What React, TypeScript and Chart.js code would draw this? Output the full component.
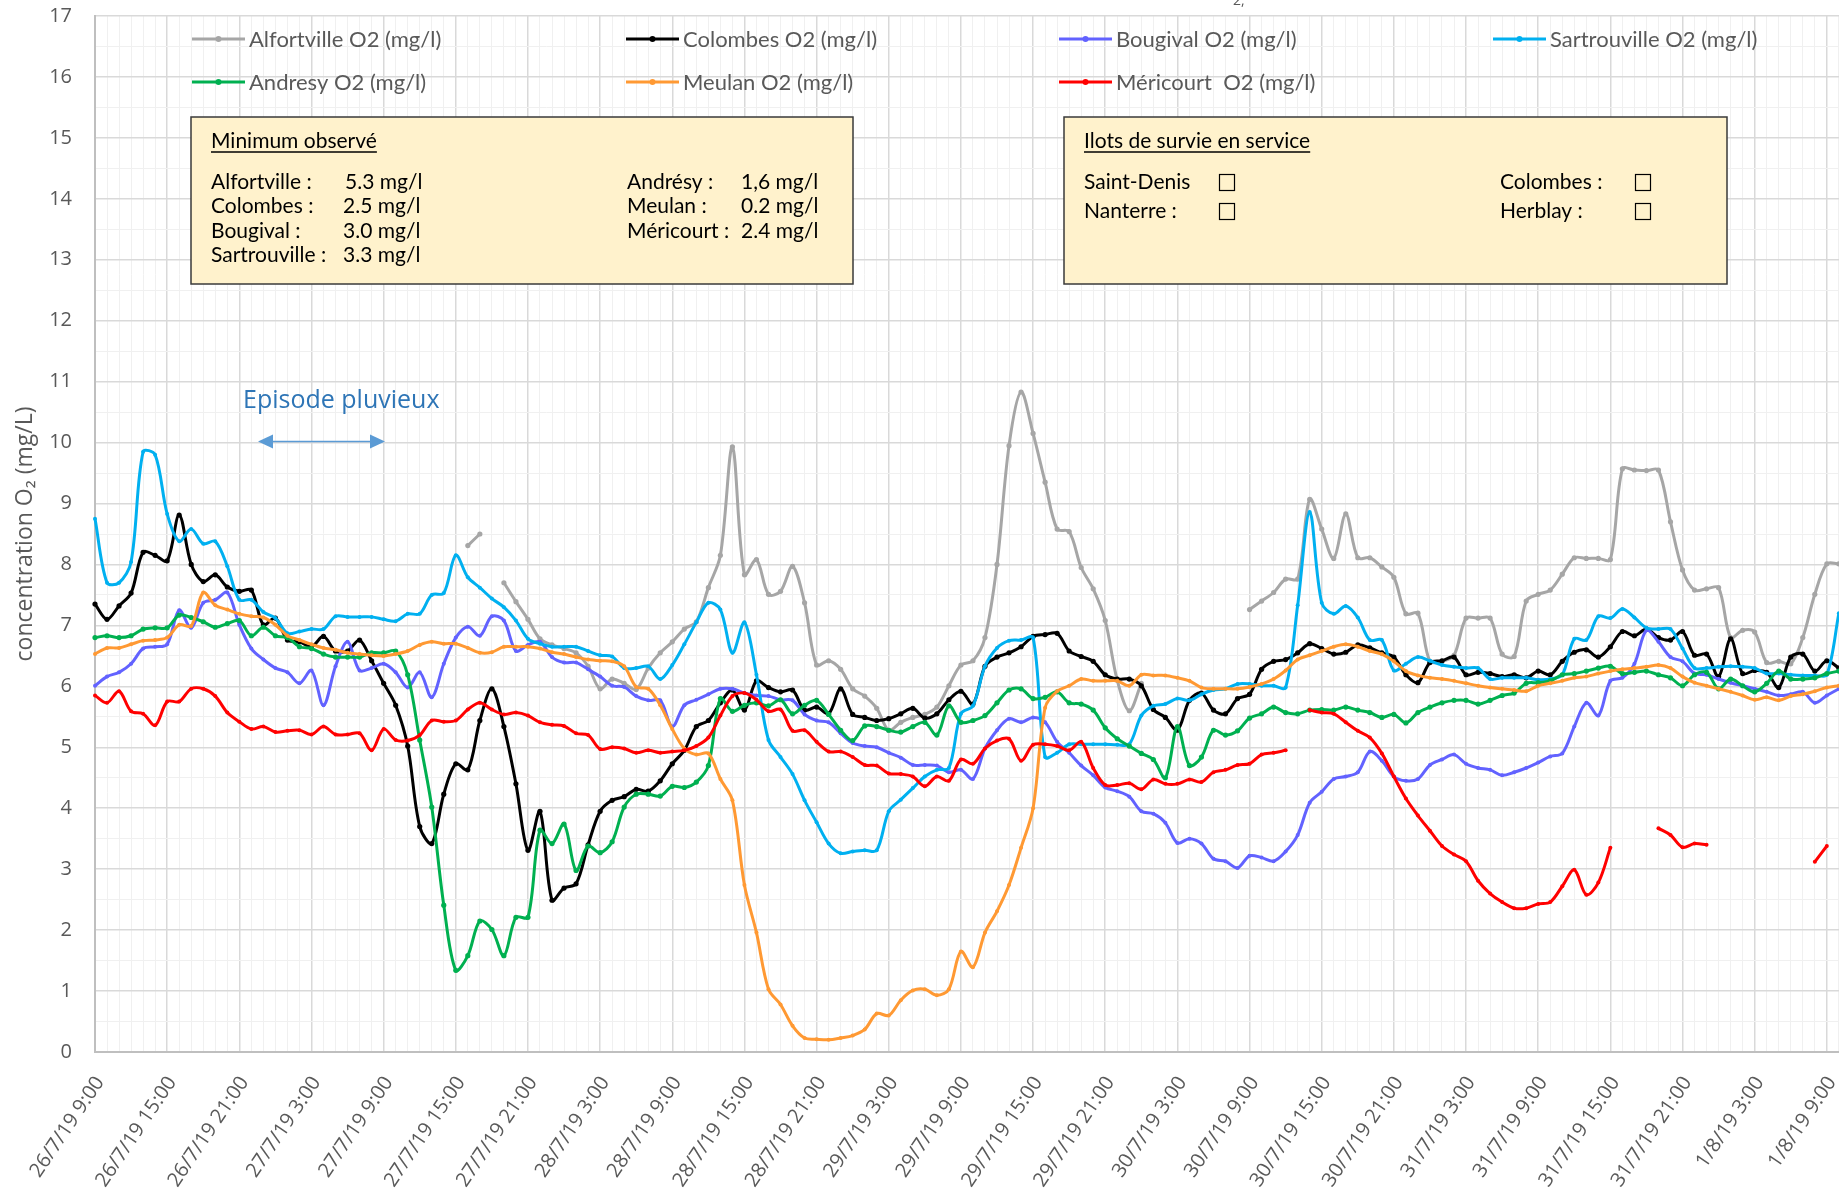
import React, { useEffect, useRef } from "react";
import { Chart, registerables } from "chart.js";

Chart.register(...registerables);

// ---- tick labels (every 6 hours) ----
const TICK_LABELS = [
  "26/7/19 9:00", "26/7/19 15:00", "26/7/19 21:00", "27/7/19 3:00", "27/7/19 9:00",
  "27/7/19 15:00", "27/7/19 21:00", "28/7/19 3:00", "28/7/19 9:00", "28/7/19 15:00",
  "28/7/19 21:00", "29/7/19 3:00", "29/7/19 9:00", "29/7/19 15:00", "29/7/19 21:00",
  "30/7/19 3:00", "30/7/19 9:00", "30/7/19 15:00", "30/7/19 21:00", "31/7/19 3:00",
  "31/7/19 9:00", "31/7/19 15:00", "31/7/19 21:00", "1/8/19 3:00", "1/8/19 9:00",
];

// ---- hourly categories 26/7/19 9:00 .. 1/8/19 15:00 ----
function hourLabel(i: number): string {
  let h = 9 + i;
  let d = 26 + Math.floor(h / 24);
  h = h % 24;
  let m = 7;
  if (d > 31) { d -= 31; m = 8; }
  return `${d}/${m}/19 ${h}:00`;
}
const CATEGORIES = Array.from({ length: 151 }, (_, i) => hourLabel(i));

const _ = null;

// ---- series values (mg/l), one per hour from 26/7/19 9:00 ----
const ALFORTVILLE = [
  _, _, _, _, _, _, _, _, _, _, _, _, _, _, _, _, _, _, _, _, _, _, _, _,
  _, _, _, _, _, _, _, 8.31, 8.5, _, 7.7, 7.39, 7.1, 6.78, 6.68, 6.62, 6.55, 6.33, 5.96, 6.12, 6.05, 5.95, 6.3, 6.55,
  6.73, 6.94, 7.06, 7.62, 8.15, 9.93, 7.83, 8.08, 7.51, 7.56, 7.97, 7.37, 6.35, 6.42, 6.28, 5.96, 5.84, 5.64, 5.28, 5.41, 5.49, 5.54, 5.66, 6.01,
  6.35, 6.42, 6.8, 8.0, 9.95, 10.83, 10.15, 9.35, 8.58, 8.54, 7.95, 7.6, 7.08, 6.1, 5.6, 6.05, _, _, _, _, _, _, _, _,
  7.26, 7.4, 7.54, 7.76, 7.76, 9.07, 8.58, 8.1, 8.83, 8.11, 8.11, 7.96, 7.79, 7.19, 7.2, 6.41, 6.41, 6.51, 7.12, 7.12, 7.12, 6.53, 6.49, 7.4,
  7.51, 7.58, 7.84, 8.11, 8.1, 8.1, 8.08, 9.57, 9.55, 9.54, 9.55, 8.7, 7.91, 7.58, 7.6, 7.62, 6.8, 6.92, 6.89, 6.39, 6.41, 6.37, 6.8, 7.51,
  8.01, 8.01,
];
const COLOMBES = [
  7.35, 7.1, 7.32, 7.53, 8.2, 8.15, 8.06, 8.81, 8.0, 7.72, 7.83, 7.63, 7.56, 7.58, 7.01, 7.12, 6.76, 6.73, 6.65, 6.82, 6.58, 6.58, 6.76, 6.42,
  6.05, 5.69, 5.02, 3.7, 3.42, 4.23, 4.73, 4.63, 5.44, 5.96, 5.34, 4.4, 3.31, 3.95, 2.49, 2.69, 2.76, 3.4, 3.95, 4.13, 4.19, 4.31, 4.28, 4.45,
  4.73, 4.95, 5.34, 5.44, 5.73, 5.94, 5.61, 6.09, 5.98, 5.91, 5.94, 5.61, 5.66, 5.55, 5.96, 5.54, 5.49, 5.44, 5.47, 5.55, 5.64, 5.48, 5.55, 5.78,
  5.92, 5.71, 6.33, 6.48, 6.55, 6.65, 6.82, 6.85, 6.87, 6.58, 6.49, 6.41, 6.19, 6.12, 6.12, 6.01, 5.62, 5.49, 5.28, 5.77, 5.89, 5.61, 5.55, 5.8,
  5.87, 6.28, 6.41, 6.44, 6.55, 6.7, 6.62, 6.53, 6.56, 6.68, 6.63, 6.55, 6.48, 6.19, 6.06, 6.39, 6.42, 6.48, 6.19, 6.23, 6.21, 6.16, 6.19, 6.14,
  6.25, 6.19, 6.41, 6.56, 6.6, 6.48, 6.65, 6.9, 6.83, 6.94, 6.8, 6.76, 6.9, 6.51, 6.53, 6.16, 6.78, 6.21, 6.26, 6.23, 5.98, 6.48, 6.53, 6.25,
  6.42, 6.3,
];
const BOUGIVAL = [
  6.01, 6.16, 6.23, 6.37, 6.62, 6.65, 6.69, 7.25, 6.96, 7.37, 7.42, 7.54, 7.01, 6.62, 6.44, 6.3, 6.23, 6.05, 6.26, 5.69, 6.33, 6.73, 6.26, 6.3,
  6.37, 6.23, 5.98, 6.23, 5.82, 6.37, 6.8, 6.98, 6.83, 7.15, 7.08, 6.58, 6.68, 6.73, 6.48, 6.39, 6.39, 6.28, 6.16, 6.01, 5.99, 5.84, 5.77, 5.77,
  5.34, 5.69, 5.78, 5.87, 5.96, 5.96, 5.89, 5.85, 5.84, 5.78, 5.77, 5.54, 5.44, 5.41, 5.23, 5.07, 5.02, 5.0, 4.91, 4.83, 4.71, 4.71, 4.7, 4.59,
  4.63, 4.48, 4.98, 5.28, 5.47, 5.41, 5.49, 5.41, 5.09, 4.91, 4.7, 4.54, 4.34, 4.28, 4.19, 3.95, 3.91, 3.76, 3.43, 3.5, 3.42, 3.17, 3.13, 3.02,
  3.22, 3.19, 3.13, 3.29, 3.56, 4.09, 4.27, 4.48, 4.52, 4.59, 4.93, 4.78, 4.52, 4.45, 4.48, 4.71, 4.8, 4.88, 4.73, 4.66, 4.63, 4.54, 4.59, 4.66,
  4.75, 4.85, 4.9, 5.34, 5.73, 5.52, 6.09, 6.14, 6.37, 6.92, 6.73, 6.48, 6.41, 6.21, 6.19, 6.12, 6.06, 6.01, 5.96, 5.91, 5.85, 5.87, 5.91, 5.73,
  5.85, 5.96,
];
const SARTROUVILLE = [
  8.75, 7.7, 7.7, 8.04, 9.85, 9.8, 8.83, 8.38, 8.58, 8.34, 8.38, 7.97, 7.42, 7.42, 7.22, 7.12, 6.87, 6.9, 6.94, 6.94, 7.15, 7.14, 7.14, 7.14,
  7.1, 7.07, 7.19, 7.19, 7.5, 7.53, 8.15, 7.79, 7.62, 7.44, 7.3, 7.08, 6.78, 6.7, 6.65, 6.65, 6.65, 6.58, 6.51, 6.49, 6.3, 6.3, 6.33, 6.12,
  6.35, 6.69, 7.05, 7.37, 7.26, 6.55, 7.05, 6.19, 5.12, 4.84, 4.56, 4.13, 3.77, 3.42, 3.26, 3.29, 3.31, 3.31, 3.95, 4.14, 4.33, 4.52, 4.63, 4.66,
  5.55, 5.68, 6.33, 6.63, 6.75, 6.76, 6.8, 4.84, 4.91, 5.05, 5.05, 5.05, 5.05, 5.04, 5.05, 5.52, 5.68, 5.71, 5.8, 5.77, 5.87, 5.94, 5.96, 6.04,
  6.04, 6.01, 6.01, 5.98, 7.33, 8.86, 7.37, 7.19, 7.32, 7.13, 6.76, 6.76, 6.26, 6.37, 6.48, 6.42, 6.35, 6.32, 6.3, 6.3, 6.12, 6.14, 6.14, 6.14,
  6.11, 6.12, 6.19, 6.78, 6.76, 7.15, 7.12, 7.27, 7.13, 6.96, 6.94, 6.94, 6.62, 6.3, 6.3, 6.32, 6.33, 6.32, 6.3, 6.21, 6.21, 6.19, 6.18, 6.18,
  6.19, 7.2,
];
const ANDRESY = [
  6.8, 6.83, 6.8, 6.83, 6.94, 6.96, 6.96, 7.17, 7.13, 7.06, 6.97, 7.03, 7.08, 6.83, 6.97, 6.83, 6.8, 6.65, 6.62, 6.53, 6.48, 6.48, 6.48, 6.55,
  6.55, 6.58, 6.19, 5.12, 4.02, 2.41, 1.34, 1.58, 2.15, 2.01, 1.58, 2.21, 2.21, 3.64, 3.42, 3.74, 2.98, 3.38, 3.27, 3.45, 4.02, 4.23, 4.23, 4.2,
  4.36, 4.34, 4.43, 4.7, 5.8, 5.59, 5.69, 5.73, 5.68, 5.78, 5.55, 5.69, 5.77, 5.54, 5.28, 5.11, 5.35, 5.34, 5.28, 5.25, 5.34, 5.41, 5.2, 5.68,
  5.41, 5.44, 5.52, 5.73, 5.94, 5.96, 5.8, 5.82, 5.91, 5.73, 5.71, 5.61, 5.32, 5.14, 5.02, 4.9, 4.8, 4.5, 5.34, 4.7, 4.84, 5.28, 5.2, 5.27,
  5.48, 5.55, 5.66, 5.57, 5.55, 5.61, 5.62, 5.61, 5.66, 5.61, 5.57, 5.49, 5.54, 5.4, 5.57, 5.66, 5.73, 5.77, 5.77, 5.71, 5.77, 5.85, 5.89, 6.05,
  6.06, 6.09, 6.19, 6.21, 6.25, 6.3, 6.33, 6.21, 6.23, 6.25, 6.19, 6.14, 6.01, 6.19, 6.23, 5.96, 6.12, 6.01, 5.91, 6.05, 6.25, 6.12, 6.12, 6.14,
  6.21, 6.25,
];
const MEULAN = [
  6.53, 6.63, 6.63, 6.69, 6.75, 6.76, 6.8, 7.01, 6.99, 7.54, 7.33, 7.26, 7.19, 7.15, 7.13, 7.01, 6.83, 6.76, 6.69, 6.63, 6.6, 6.55, 6.53, 6.51,
  6.5, 6.53, 6.58, 6.68, 6.73, 6.7, 6.7, 6.63, 6.55, 6.56, 6.65, 6.65, 6.65, 6.62, 6.56, 6.53, 6.48, 6.44, 6.42, 6.41, 6.33, 5.99, 5.96, 5.69,
  5.3, 4.98, 4.88, 4.9, 4.48, 4.13, 2.74, 1.96, 1.03, 0.78, 0.43, 0.23, 0.21, 0.2, 0.23, 0.27, 0.37, 0.63, 0.6, 0.85, 1.01, 1.03, 0.93, 1.03,
  1.65, 1.39, 1.96, 2.31, 2.74, 3.35, 4.0, 5.65, 5.92, 6.01, 6.12, 6.09, 6.09, 6.09, 6.01, 6.19, 6.18, 6.18, 6.14, 6.09, 5.98, 5.96, 5.96, 5.96,
  5.99, 6.04, 6.12, 6.26, 6.44, 6.51, 6.58, 6.65, 6.69, 6.65, 6.58, 6.53, 6.41, 6.25, 6.18, 6.14, 6.12, 6.09, 6.05, 6.01, 5.98, 5.96, 5.94, 5.92,
  6.01, 6.05, 6.09, 6.14, 6.16, 6.21, 6.25, 6.28, 6.3, 6.32, 6.35, 6.3, 6.16, 6.06, 6.01, 5.96, 5.91, 5.85, 5.78, 5.82, 5.77, 5.84, 5.87, 5.92,
  5.98, 6.01,
];
const MERICOURT = [
  5.85, 5.73, 5.92, 5.59, 5.55, 5.36, 5.75, 5.75, 5.96, 5.96, 5.84, 5.57, 5.42, 5.3, 5.34, 5.25, 5.27, 5.28, 5.21, 5.34, 5.21, 5.21, 5.23, 4.95,
  5.3, 5.12, 5.11, 5.2, 5.44, 5.42, 5.44, 5.62, 5.73, 5.62, 5.54, 5.57, 5.52, 5.41, 5.37, 5.35, 5.23, 5.2, 4.97, 5.0, 4.98, 4.91, 4.95, 4.91,
  4.93, 4.95, 5.02, 5.16, 5.52, 5.84, 5.89, 5.78, 5.59, 5.62, 5.27, 5.28, 5.09, 4.93, 4.93, 4.84, 4.71, 4.7, 4.57, 4.56, 4.52, 4.36, 4.52, 4.45,
  4.8, 4.73, 4.98, 5.11, 5.14, 4.78, 5.04, 5.05, 5.02, 4.95, 5.09, 4.66, 4.38, 4.38, 4.41, 4.31, 4.47, 4.4, 4.4, 4.47, 4.43, 4.59, 4.63, 4.71,
  4.73, 4.88, 4.91, 4.95, _, 5.61, 5.57, 5.55, 5.41, 5.27, 5.16, 4.9, 4.52, 4.16, 3.88, 3.63, 3.38, 3.24, 3.13, 2.81, 2.6, 2.46, 2.36, 2.36,
  2.43, 2.46, 2.72, 2.99, 2.58, 2.78, 3.35, _, _, _, 3.67, 3.56, 3.36, 3.42, 3.4, _, _, _, _, _, _, _, _, 3.12,
  3.38, _,
];

const SERIES_NAMES = [
  "Alfortville O2 (mg/l)", "Colombes O2 (mg/l)", "Bougival O2 (mg/l)", "Sartrouville O2 (mg/l)",
  "Andresy O2 (mg/l)", "Meulan O2 (mg/l)", "Méricourt  O2 (mg/l)",
];
const SERIES_VALUES = [ALFORTVILLE, COLOMBES, BOUGIVAL, SARTROUVILLE, ANDRESY, MEULAN, MERICOURT];
const SERIES_COLORS = ["#a6a6a6", "#000000", "#6262ff", "#00b0f0", "#00b050", "#ff9933", "#ff0000"];

// ---- annotation texts ----
const MIN_TITLE = "Minimum observé";
const MIN_LEFT = [["Alfortville :", "5.3 mg/l"], ["Colombes :", "2.5 mg/l"], ["Bougival :", "3.0 mg/l"], ["Sartrouville :", "3.3 mg/l"]];
const MIN_RIGHT = [["Andrésy :", "1,6 mg/l"], ["Meulan :", "0.2 mg/l"], ["Méricourt :", "2.4 mg/l"]];
const ILOTS_TITLE = "Ilots de survie en service";
const ILOTS_LEFT = ["Saint-Denis", "Nanterre :"];
const ILOTS_RIGHT = ["Colombes :", "Herblay :"];
const EPISODE = "Episode pluvieux";

const MAJOR = "#d9d9d9";
const MINOR = "#f0f0f0";

const overlay = {
  id: "overlay",
  afterDraw(chart: any) {
    const ctx: CanvasRenderingContext2D = chart.ctx;
    ctx.save();
    // legend
    const colX = [192, 626, 1059, 1493];
    const rowY = [39, 82];
    SERIES_NAMES.forEach((name, i) => {
      const col = i % 4;
      const row = i < 4 ? 0 : 1;
      const x = colX[col];
      const y = rowY[row];
      ctx.strokeStyle = SERIES_COLORS[i];
      ctx.lineWidth = 3;
      ctx.beginPath();
      ctx.moveTo(x, y);
      ctx.lineTo(x + 53, y);
      ctx.stroke();
      ctx.fillStyle = SERIES_COLORS[i];
      ctx.beginPath();
      ctx.arc(x + 26.5, y, 3, 0, Math.PI * 2);
      ctx.fill();
      ctx.fillStyle = "#595959";
      ctx.font = "22px Lato";
      ctx.textBaseline = "middle";
      ctx.textAlign = "left";
      ctx.fillText(name, x + 57, y + 1);
    });

    // boxes
    const drawBox = (x0: number, y0: number, x1: number, y1: number) => {
      ctx.fillStyle = "#fff2cc";
      ctx.fillRect(x0, y0, x1 - x0, y1 - y0);
      ctx.strokeStyle = "#3a3a3a";
      ctx.lineWidth = 1.5;
      ctx.strokeRect(x0, y0, x1 - x0, y1 - y0);
    };
    const underlined = (t: string, x: number, y: number) => {
      ctx.fillText(t, x, y);
      const w = ctx.measureText(t).width;
      ctx.beginPath();
      ctx.lineWidth = 1.5;
      ctx.strokeStyle = "#000";
      ctx.moveTo(x, y + 11);
      ctx.lineTo(x + w, y + 11);
      ctx.stroke();
    };
    drawBox(191, 117, 853, 284);
    drawBox(1064, 117, 1727, 284);
    ctx.fillStyle = "#000";
    ctx.font = "21px Lato";
    ctx.textBaseline = "middle";
    ctx.textAlign = "left";
    underlined(MIN_TITLE, 211, 141);
    const rows = [182, 206, 231, 255];
    MIN_LEFT.forEach(([a, b], i) => {
      ctx.fillText(a, 211, rows[i]);
      ctx.fillText(b, i === 0 ? 345 : 343, rows[i]);
    });
    MIN_RIGHT.forEach(([a, b], i) => {
      ctx.fillText(a, 627, rows[i]);
      ctx.fillText(b, 741, rows[i]);
    });
    underlined(ILOTS_TITLE, 1084, 141);
    const rows2 = [182, 211];
    ILOTS_LEFT.forEach((t, i) => ctx.fillText(t, 1084, rows2[i]));
    ILOTS_RIGHT.forEach((t, i) => ctx.fillText(t, 1500, rows2[i]));
    // empty check boxes
    ctx.strokeStyle = "#000";
    ctx.lineWidth = 1.2;
    [0, 1].forEach((i) => {
      ctx.strokeRect(1219.5, rows2[i] - 7.5, 15, 16);
      ctx.strokeRect(1635.5, rows2[i] - 7.5, 15, 16);
    });

    // episode pluvieux
    ctx.fillStyle = "#2e75b6";
    ctx.font = "25px 'Open Sans'";
    ctx.textBaseline = "alphabetic";
    ctx.fillText(EPISODE, 243, 408);
    ctx.strokeStyle = "#5b9bd5";
    ctx.fillStyle = "#5b9bd5";
    ctx.lineWidth = 1.5;
    ctx.beginPath();
    ctx.moveTo(268, 441.5);
    ctx.lineTo(375, 441.5);
    ctx.stroke();
    ctx.beginPath();
    ctx.moveTo(258, 441.5);
    ctx.lineTo(273, 434.5);
    ctx.lineTo(273, 448.5);
    ctx.closePath();
    ctx.fill();
    ctx.beginPath();
    ctx.moveTo(385, 441.5);
    ctx.lineTo(370, 434.5);
    ctx.lineTo(370, 448.5);
    ctx.closePath();
    ctx.fill();

    // fragment of the cut-off title
    ctx.fillStyle = "#595959";
    ctx.font = "14px 'Open Sans'";
    ctx.fillText("2,", 1233, 5);
    ctx.restore();
  },
};

export default function App() {
  const ref = useRef<HTMLCanvasElement>(null);
  useEffect(() => {
    const datasets = SERIES_VALUES.map((vals, i) => ({
      label: SERIES_NAMES[i],
      data: vals,
      borderColor: SERIES_COLORS[i],
      backgroundColor: SERIES_COLORS[i],
      pointBackgroundColor: SERIES_COLORS[i],
      pointBorderWidth: 0,
      pointRadius: i === 0 || i === 1 || i === 4 ? 2.6 : 2,
      borderWidth: 3,
      tension: 0.33,
      spanGaps: false,
      fill: false,
      order: 10 - i,
    }));
    const chart = new Chart(ref.current as HTMLCanvasElement, {
      type: "line",
      data: { labels: CATEGORIES, datasets },
      options: {
        responsive: false,
        animation: false,
        devicePixelRatio: 1,
        layout: { padding: { top: 16, left: 0, right: 0, bottom: 0 } },
        plugins: { legend: { display: false }, tooltip: { enabled: false } },
        scales: {
          x: {
            type: "category",
            offset: false,
            grid: {
              color: (c: any) => (c.index % 6 === 0 ? MAJOR : MINOR),
              lineWidth: (c: any) => (c.index % 6 === 0 ? 1.5 : 1),
              drawTicks: false,
            },
            border: { color: "#bfbfbf", width: 2 },
            ticks: {
              autoSkip: false,
              maxRotation: 56,
              minRotation: 56,
              padding: 20,
              labelOffset: 5,
              color: "#595959",
              font: { family: "'Open Sans'", size: 20 },
              callback: (_v: any, i: number) => (i % 6 === 0 ? TICK_LABELS[i / 6] ?? "" : ""),
            },
            afterFit: (s: any) => {
              s.height = 149;
              s.paddingLeft = 0;
              s.paddingRight = 0;
            },
          },
          y: {
            min: 0,
            max: 17,
            grid: {
              color: (c: any) => (c.tick && Number.isInteger(c.tick.value) ? MAJOR : MINOR),
              lineWidth: (c: any) => (c.tick && Number.isInteger(c.tick.value) ? 1.5 : 1),
              drawTicks: false,
            },
            border: { color: "#bfbfbf", width: 2 },
            ticks: {
              stepSize: 0.5,
              autoSkip: false,
              padding: 23,
              color: "#595959",
              font: { family: "'Open Sans'", size: 20 },
              callback: (v: any) => (Number.isInteger(v) ? String(v) : ""),
            },
            title: {
              display: true,
              text: "concentration O₂ (mg/L)",
              color: "#595959",
              font: { family: "'Open Sans'", size: 23 },
              padding: { top: 12, bottom: 0 },
            },
            afterFit: (s: any) => {
              s.width = 95;
              s.paddingTop = 0;
              s.paddingBottom = 0;
            },
          },
        },
      },
      plugins: [overlay],
    } as any);
    return () => chart.destroy();
  }, []);
  return (
    <div
      style={{
        position: "fixed",
        left: 0,
        top: 0,
        width: 1839,
        height: 1201,
        overflow: "hidden",
        background: "#fff",
      }}
    >
      <canvas ref={ref} width={1903} height={1201} style={{ display: "block", width: 1903, height: 1201 }} />
    </div>
  );
}
